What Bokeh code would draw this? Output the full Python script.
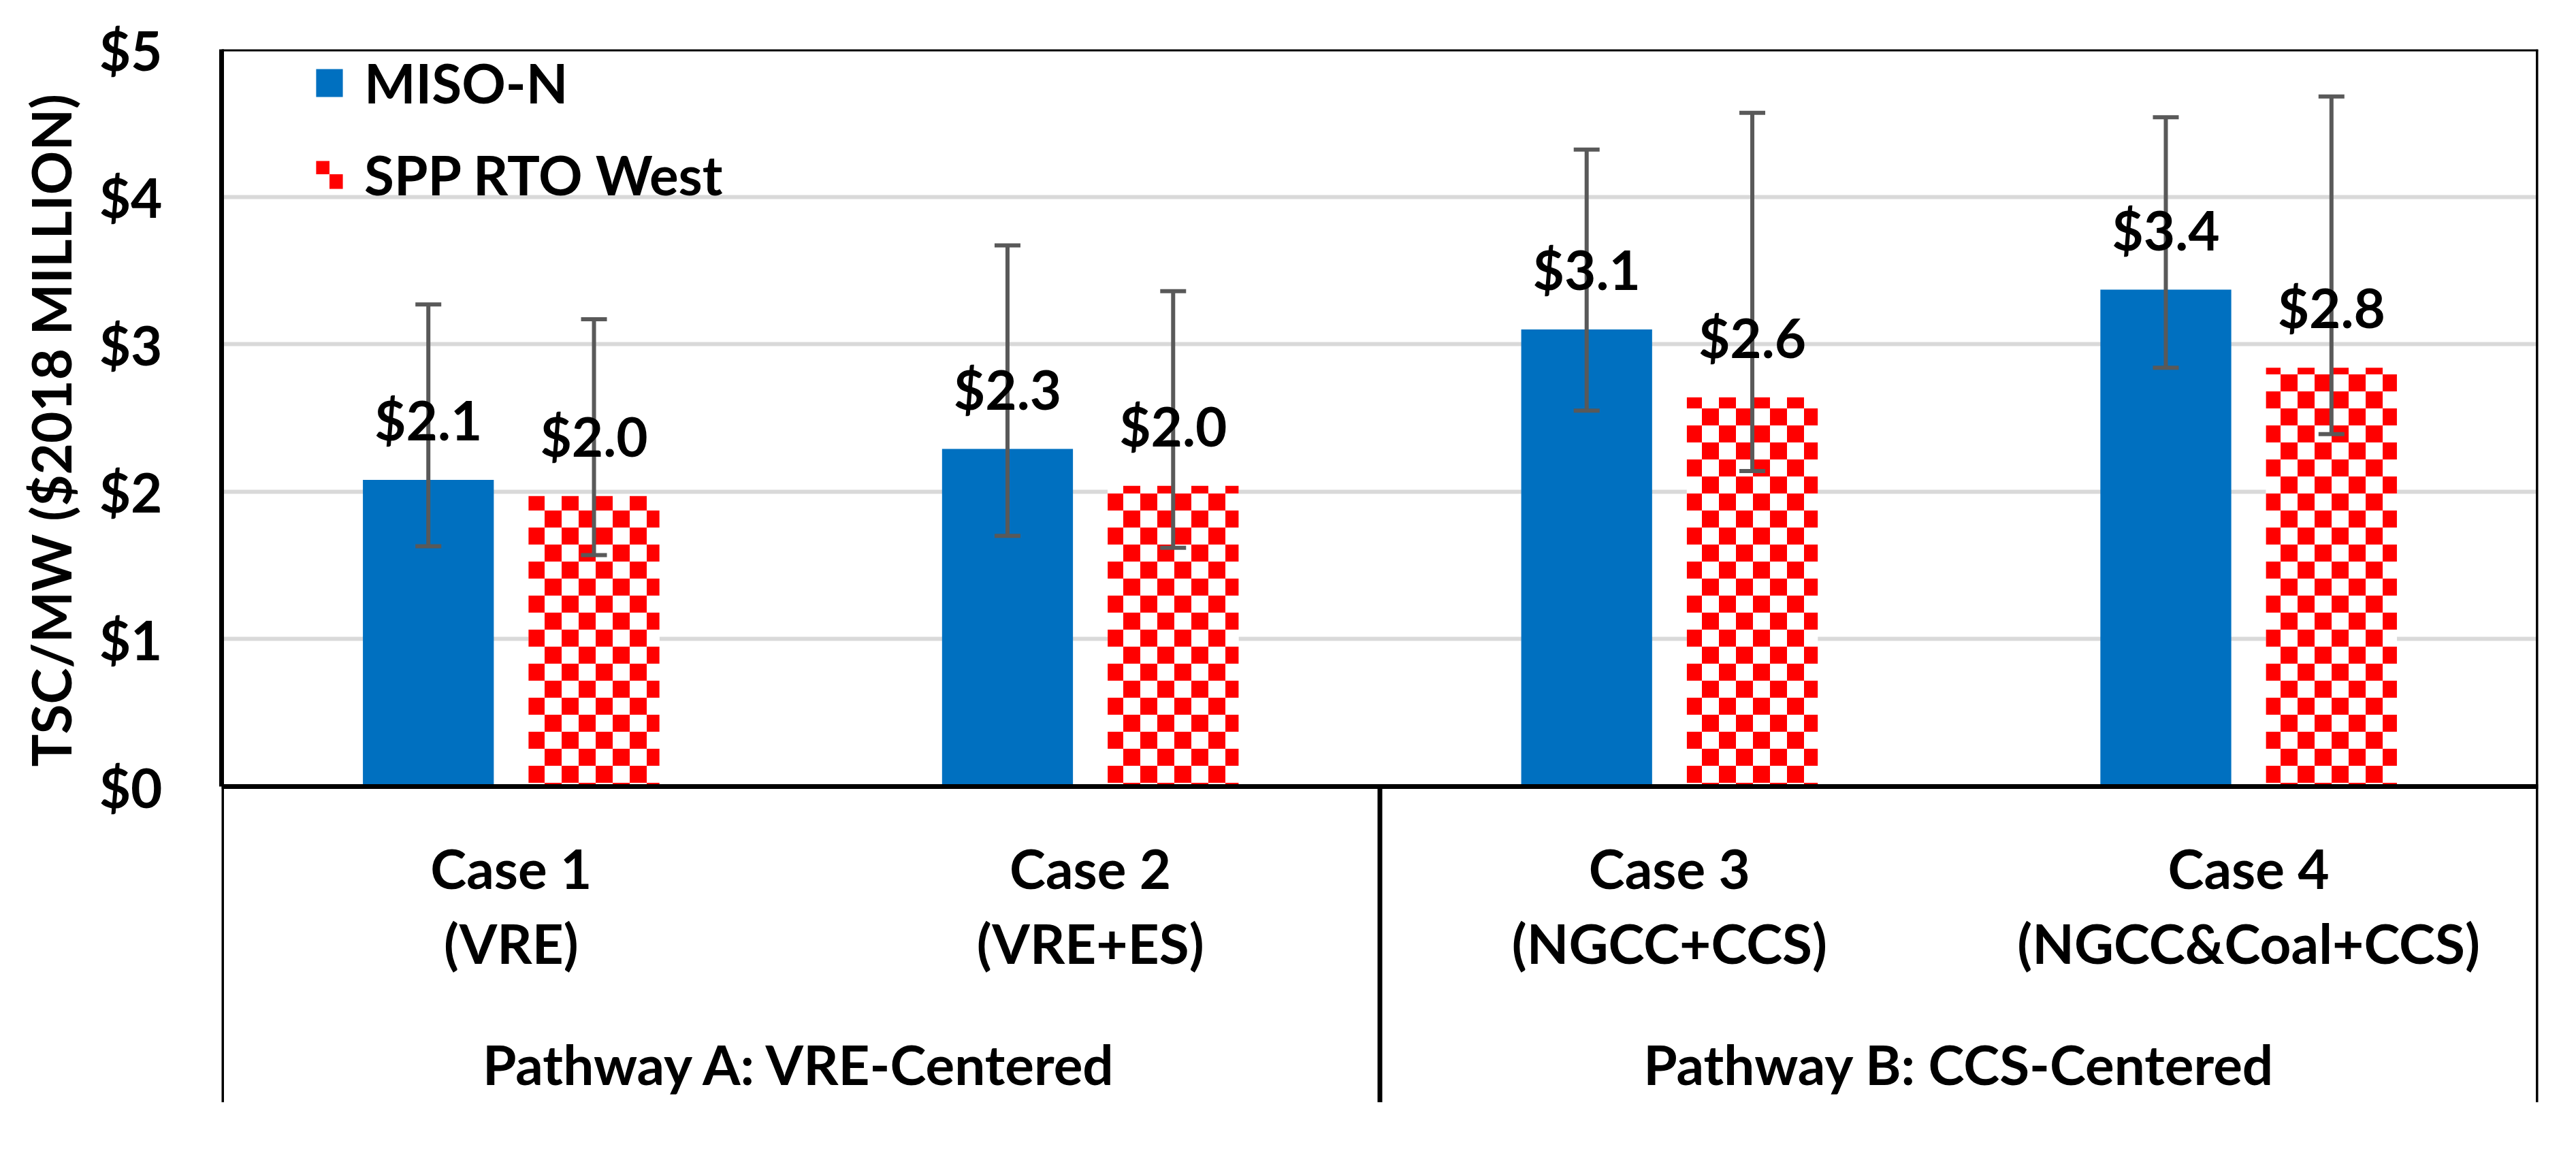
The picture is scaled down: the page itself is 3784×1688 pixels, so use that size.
import base64
from bokeh.plotting import figure
from bokeh.models import (FactorRange, Range1d, ColumnDataSource, FixedTicker,
                          PrintfTickFormatter, Span, Legend, LegendItem, ImageURLTexture, Title)
from bokeh.transform import dodge
from bokeh.core.properties import value
from bokeh.embed import file_html
from bokeh.resources import INLINE

# ---------------- data ----------------
pathways = ["Pathway A: VRE-Centered", "Pathway A: VRE-Centered",
            "Pathway B: CCS-Centered", "Pathway B: CCS-Centered"]
cases = ["Case 1", "Case 2", "Case 3", "Case 4"]
case_tech = ["(VRE)", "(VRE+ES)", "(NGCC+CCS)", "(NGCC&Coal+CCS)"]
series_names = ["MISO-N", "SPP RTO West"]
y_title = "TSC/MW ($2018 MILLION)"

miso = [2.08, 2.29, 3.10, 3.37]
miso_low = [1.63, 1.70, 2.55, 2.84]
miso_high = [3.27, 3.67, 4.32, 4.54]

spp = [1.97, 2.04, 2.64, 2.84]
spp_low = [1.57, 1.62, 2.14, 2.39]
spp_high = [3.17, 3.36, 4.57, 4.68]

y_ticks = [0, 1, 2, 3, 4, 5]

# ---------------- styling constants ----------------
FONT = value("Lato")
FS = "80px"
BLUE = "#0070C0"
ERR = "#595959"
OFF = 0.143
BW = 0.226
TXT_SHIFT = -27

factors = list(zip(pathways, cases))
groups = list(dict.fromkeys(pathways))

src = ColumnDataSource(dict(
    x=factors, miso=miso, miso_low=miso_low, miso_high=miso_high,
    spp=spp, spp_low=spp_low, spp_high=spp_high,
    miso_label=[f"${v:.1f}" for v in miso],
    spp_label=[f"${v:.1f}" for v in spp],
    case=cases, tech=case_tech,
))
grp_src = ColumnDataSource(dict(x=groups, label=groups))

x_range = FactorRange(factors=factors, factor_padding=0, group_padding=0, range_padding=0)
y_range = Range1d(-2.142, y_ticks[-1])

p = figure(x_range=x_range, y_range=y_range, width=3768, height=1672,
           output_backend="svg", toolbar_location=None,
           x_axis_location=None, y_axis_location="left",
           min_border_left=325, min_border_right=40,
           min_border_top=72, min_border_bottom=53,
           outline_line_color=None, background_fill_color="white")

# y axis
ya = p.yaxis[0]
ya.ticker = FixedTicker(ticks=y_ticks)
ya.formatter = PrintfTickFormatter(format="$%d")
ya.bounds = (y_ticks[0], y_ticks[-1])
ya.axis_line_width = 7
ya.axis_line_color = "black"
ya.major_tick_line_color = None
ya.minor_tick_line_color = None
ya.major_tick_in = 0
ya.major_tick_out = 0
ya.major_label_standoff = 87
ya.major_label_text_font = "Lato"
ya.major_label_text_font_style = "bold"
ya.major_label_text_font_size = FS
ya.major_label_text_color = "black"

p.ygrid.ticker = ya.ticker
p.ygrid.grid_line_color = "#D9D9D9"
p.ygrid.grid_line_width = 6
for g in p.xgrid:
    g.visible = False

# y-axis title in the left panel, shifted up to sit against the value scale
p.add_layout(Title(text=y_title, align="right", vertical_align="middle",
                   offset=65, standoff=40,
                   text_font="Lato", text_font_style="bold",
                   text_font_size=FS, text_color="black"), "left")

# checker texture for SPP bars (25px squares)
tile = ('<svg xmlns="http://www.w3.org/2000/svg" width="50" height="50">'
        '<rect width="50" height="50" fill="#FFFFFF"/>'
        '<rect x="0" y="0" width="25" height="25" fill="#FF0000"/>'
        '<rect x="25" y="25" width="25" height="25" fill="#FF0000"/></svg>')
checker = ImageURLTexture(url="data:image/svg+xml;base64," +
                          base64.b64encode(tile.encode()).decode(), repetition="repeat")

xm = dodge("x", -OFF, range=x_range)
xs = dodge("x", OFF, range=x_range)

r_miso = p.vbar(x=xm, top="miso", width=BW, source=src,
                fill_color=BLUE, line_color=None)
r_spp = p.vbar(x=xs, top="spp", width=BW, source=src,
               fill_color="white", line_color=None,
               hatch_pattern=value("checker"), hatch_extra={"checker": checker},
               hatch_scale=50, hatch_color="red", hatch_alpha=1.0)

# error bars
for xx, lo, hi in [(xm, "miso_low", "miso_high"), (xs, "spp_low", "spp_high")]:
    p.segment(x0=xx, y0=lo, x1=xx, y1=hi, source=src, line_color=ERR, line_width=6)
    p.scatter(x=xx, y=lo, source=src, marker="dash", size=38, line_color=ERR, line_width=6)
    p.scatter(x=xx, y=hi, source=src, marker="dash", size=38, line_color=ERR, line_width=6)

# data labels
for xx, col, lab in [(xm, "miso", "miso_label"), (xs, "spp", "spp_label")]:
    p.text(x=xx, y=col, text=lab, source=src, y_offset=-62 + TXT_SHIFT,
           text_align="center", text_baseline="alphabetic",
           text_font=FONT, text_font_style="bold", text_font_size=FS, text_color="black")

# category table below the axis
p.text(x="x", y=-0.674, text="case", source=src, text_align="center", y_offset=TXT_SHIFT,
       text_baseline="alphabetic", text_font=FONT, text_font_style="bold",
       text_font_size=FS, text_color="black")
p.text(x="x", y=-1.184, text="tech", source=src, text_align="center", y_offset=TXT_SHIFT,
       text_baseline="alphabetic", text_font=FONT, text_font_style="bold",
       text_font_size=FS, text_color="black")
p.text(x="x", y=-2.004, text="label", source=grp_src, text_align="center", y_offset=TXT_SHIFT,
       text_baseline="alphabetic", text_font=FONT, text_font_style="bold",
       text_font_size=FS, text_color="black")

div_src = ColumnDataSource(dict(x=[factors[1]]))
p.segment(x0=dodge("x", 0.5, range=x_range), y0=0,
          x1=dodge("x", 0.5, range=x_range), y1=y_range.start,
          source=div_src, line_color="black", line_width=7)

# frame lines
p.add_layout(Span(location=0, dimension="width", line_color="black", line_width=7))
p.add_layout(Span(location=y_ticks[-1], dimension="width", line_color="black", line_width=6))
p.add_layout(Span(location=0, dimension="height", line_color="black", line_width=7))
p.add_layout(Span(location=len(cases), dimension="height", line_color="black", line_width=7))

legend = Legend(items=[LegendItem(label=series_names[0], renderers=[r_miso]),
                       LegendItem(label=series_names[1], renderers=[r_spp])],
                location=(134, 1315), orientation="vertical",
                border_line_color=None, background_fill_alpha=0,
                padding=0, margin=0, spacing=39,
                glyph_width=49, glyph_height=51, label_standoff=27,
                label_text_font="Lato", label_text_font_style="bold",
                label_text_font_size=FS, label_text_color="black")
p.add_layout(legend)

open("out.html", "w").write(file_html(p, INLINE))
